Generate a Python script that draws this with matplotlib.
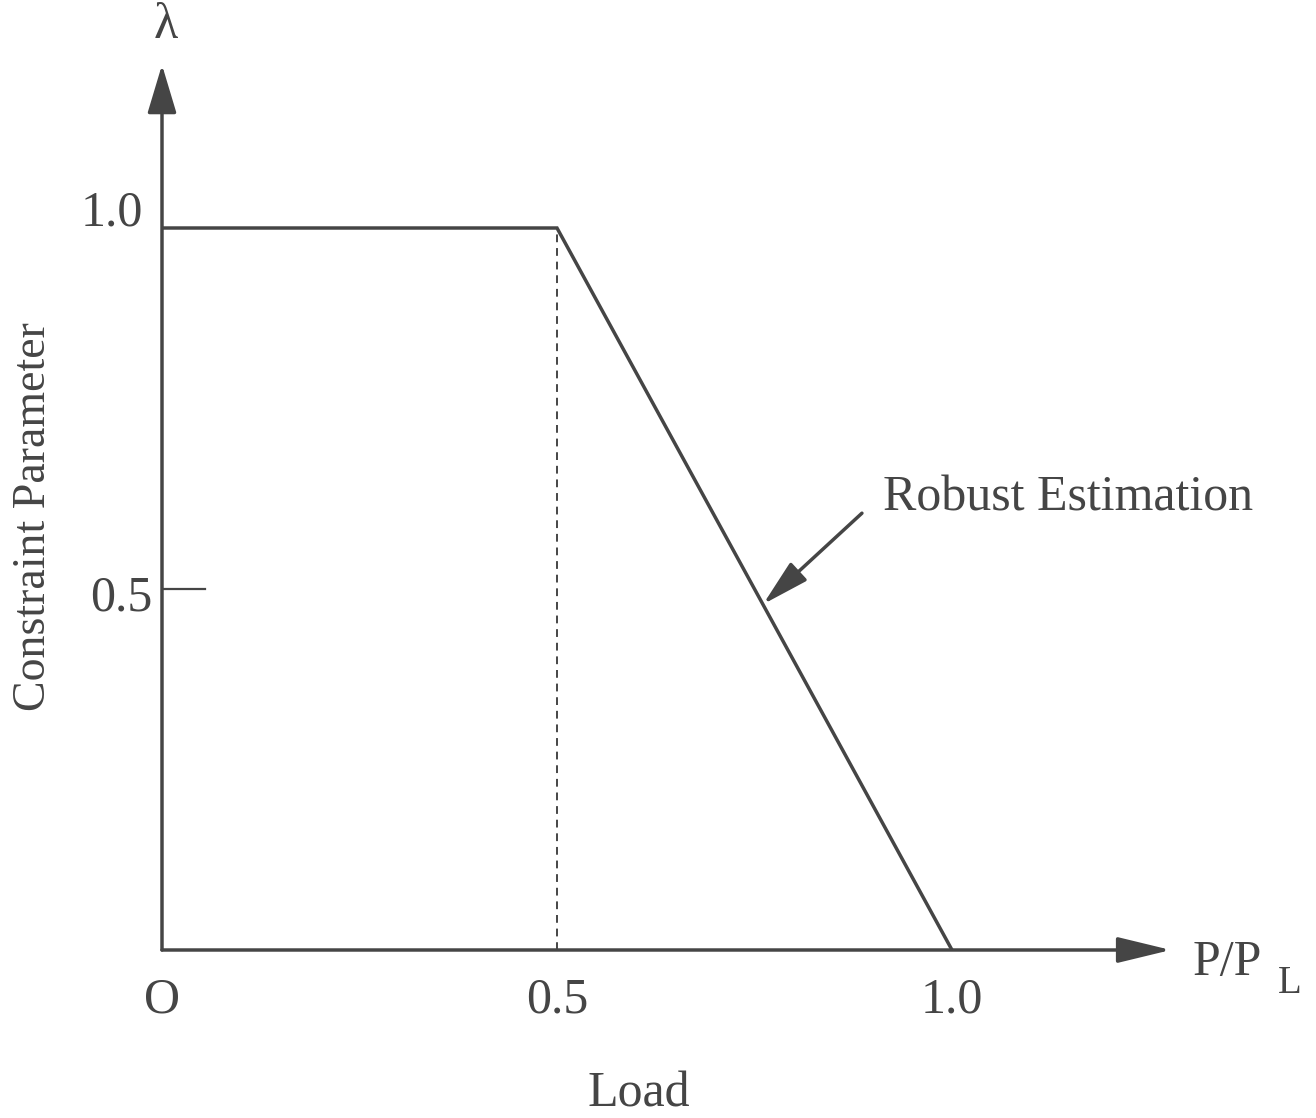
import matplotlib.pyplot as plt

plt.rcParams['font.family'] = ['Liberation Serif', 'DejaVu Serif']

# load ratio P/PL and constraint parameter lambda
load = [0.0, 0.5, 1.0]
lam = [1.0, 1.0, 0.0]

xticks = [0.0, 0.5, 1.0]
xtick_labels = ["O", "0.5", "1.0"]
yticks = [0.5, 1.0]
ytick_labels = ["0.5", "1.0"]

ink = "#454545"
fs = 36

fig = plt.figure(figsize=(13.16, 11.18), dpi=100)
W, H = 1316, 1118
px_x, px_y = 790, 722   # pixels per unit
x0, y0 = 162, 950       # origin in pixels
ax = fig.add_axes([x0 / W, (H - y0) / H, 1.3 * px_x / W, 1.25 * px_y / H])
ax.set_xlim(0, 1.3)
ax.set_ylim(0, 1.25)
ax.axis("off")

# axes with arrow heads
ax.annotate("", xy=(0, 1.226), xytext=(0, 0),
            arrowprops=dict(arrowstyle="-|>,head_length=30,head_width=9",
                            mutation_scale=1, lw=2.5, color=ink,
                            shrinkA=0, shrinkB=0))
ax.annotate("", xy=(1.277, 0), xytext=(0, 0),
            arrowprops=dict(arrowstyle="-|>,head_length=33,head_width=8",
                            mutation_scale=1, lw=2.5, color=ink,
                            shrinkA=0, shrinkB=0))

# constraint curve
ax.plot(load, lam, color=ink, lw=2.5, solid_joinstyle="miter")
ax.plot([0.5, 0.5], [0, 1.0], color=ink, lw=1.4, ls=(0, (4, 3)))

# y tick mark at 0.5
ax.plot([0, 0.054], [0.5, 0.5], color=ink, lw=1.6)

for v, s in zip(xticks, xtick_labels):
    ax.text(v, -0.069, s, ha="center", va="center", fontsize=fs, color=ink)
for v, s in zip(yticks, ytick_labels):
    ax.text(-0.012 if v == 0.5 else -0.024, v + 0.021 if v == 1.0 else v - 0.0125,
            s, ha="right", va="center", fontsize=fs, color=ink)

ax.text(0.005, 1.28, "λ", ha="center", va="center", fontsize=fs, color=ink)
ax.text(1.305, -0.018, "P/P", ha="left", va="center", fontsize=fs, color=ink)
ax.text(1.413, -0.047, "L", ha="left", va="center", fontsize=28, color=ink)

ax.text(0.603, -0.2, "Load", ha="center", va="center", fontsize=fs, color=ink)
ax.text(-0.162, 0.6, "Constraint Parameter", ha="center", va="center",
        rotation=90, fontsize=33, color=ink)

ax.annotate("", xy=(0.761, 0.479), xytext=(0.886, 0.605),
            arrowprops=dict(arrowstyle="-|>,head_length=29,head_width=7.5",
                            mutation_scale=1, lw=2.5, color=ink,
                            shrinkA=0, shrinkB=0))
ax.text(0.913, 0.626, "Robust Estimation", ha="left", va="center",
        fontsize=fs, color=ink)

for t in ax.texts:
    t.set_clip_on(False)

fig.savefig("out.png", dpi=100)
